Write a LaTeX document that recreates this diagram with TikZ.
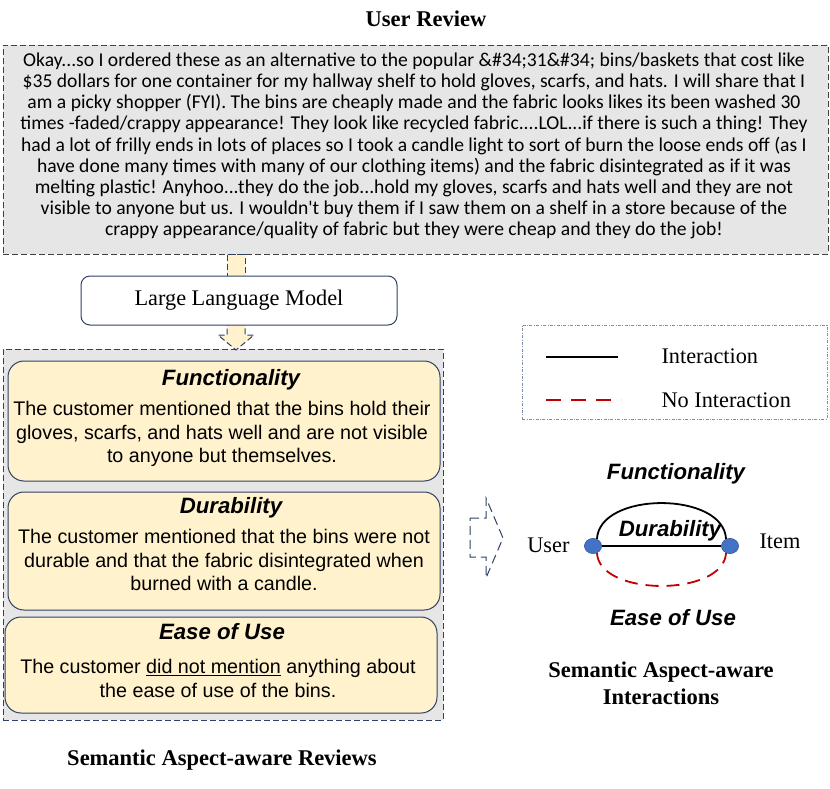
\documentclass[tikz,border=0pt]{standalone}
\usepackage{fontspec}
\setmainfont{Liberation Serif}
\setsansfont{Liberation Sans}
\newfontfamily\calfont{Carlito}
\usetikzlibrary{calc}
\definecolor{navy}{HTML}{2F4066}
\definecolor{boxyel}{HTML}{FFF2CC}
\definecolor{boxgray}{HTML}{E6E6E6}
\definecolor{nodeblue}{HTML}{4472C4}
\definecolor{redd}{HTML}{C00000}
\definecolor{legbd}{HTML}{8090A8}
\tikzset{
  caption/.style={font=\fontsize{22.5}{27}\selectfont\bfseries, align=center},
  aspectbox/.style={draw=navy, line width=1pt, fill=boxyel, rounded corners=16pt, minimum width=432pt, inner sep=0pt},
  aspecttitle/.style={font=\fontsize{22.2}{26}\sffamily\bfseries\itshape\selectfont},
  aspecttext/.style={font=\fontsize{19.7}{23.5}\sffamily\selectfont, align=center},
  blockarrow/.style={draw=navy, dashed, dash pattern=on 6pt off 3pt, line width=1pt, fill=boxyel},
  unode/.style={ellipse, fill=nodeblue, draw=nodeblue!80!black, line width=0.4pt, minimum width=17pt, minimum height=15pt, inner sep=0pt},
  serifl/.style={font=\fontsize{22.3}{26}\selectfont},
}
\usetikzlibrary{shapes.geometric}
\begin{document}
\begin{tikzpicture}[x=1pt,y=-1pt]
\useasboundingbox (0,0) rectangle (830,788);
% title
\node[caption] (t1) at (426,19) {User Review};
% review box
\node[draw=black!75, dashed, dash pattern=on 6pt off 3pt, line width=1pt, fill=boxgray, minimum width=825pt, minimum height=209pt, inner sep=0pt] (rev) at (415.5,149.5) {};
\node[font=\calfont\fontsize{19.6}{21.15}\selectfont, align=center] (revtxt) at (414,146) {Okay...so I ordered these as an alternative to the popular \&\#34;31\&\#34; bins/baskets that cost like\\
\$35 dollars for one container for my hallway shelf to hold gloves, scarfs, and hats. I will share that I\\
am a picky shopper (FYI). The bins are cheaply made and the fabric looks likes its been washed 30\\
times -faded/crappy appearance! They look like recycled fabric....LOL...if there is such a thing! They\\
had a lot of frilly ends in lots of places so I took a candle light to sort of burn the loose ends off (as I\\
have done many times with many of our clothing items) and the fabric disintegrated as if it was\\
melting plastic! Anyhoo...they do the job...hold my gloves, scarfs and hats well and they are not\\
visible to anyone but us. I wouldn't buy them if I saw them on a shelf in a store because of the\\
crappy appearance/quality of fabric but they were cheap and they do the job!};
% LLM box position
\coordinate (llmc) at (239,300.5);
% arrow review -> LLM (shaft)
\draw[blockarrow] ($(rev.south)+(-188.5,0)$) rectangle ($(llmc)+(6,-10)$);
% left container
\node[draw=navy, dashed, dash pattern=on 6pt off 3pt, line width=1pt, fill=boxgray, minimum width=440pt, minimum height=371pt, inner sep=0pt] (cont) at (223,534.5) {};
% arrow LLM -> container
\draw[blockarrow] ($(llmc)+(-12,10)$) -- ($(llmc)+(-12,34.5)$) -- ($(llmc)+(-21,34.5)$) -- ($(llmc)+(-3,49.5)$) -- ($(llmc)+(15,34.5)$) -- ($(llmc)+(6,34.5)$) -- ($(llmc)+(6,10)$);
\node[draw=navy, line width=1pt, fill=white, rounded corners=9pt, minimum width=316pt, minimum height=49pt, inner sep=0pt, serifl] (llm) at (llmc) {Large Language Model};
% aspect boxes
\node[aspectbox, minimum height=120pt] (b1) at (224,421) {};
\node[aspecttitle] (b1t) at (231,380) {Functionality};
\node[aspecttext] (b1x) at (222,434) {The customer mentioned that the bins hold their\\gloves, scarfs, and hats well and are not visible\\to anyone but themselves.};
\node[aspectbox, minimum height=118pt] (b2) at (224,551) {};
\node[aspecttitle] (b2t) at (231,508) {Durability};
\node[aspecttext] (b2x) at (224,560) {The customer mentioned that the bins were not\\durable and that the fabric disintegrated when\\burned with a candle.};
\node[aspectbox, minimum height=96pt] (b3) at (221,665) {};
\node[aspecttitle] (b3t) at (222,632) {Ease of Use};
\node[aspecttext] (b3x) at (218,678.5) {The customer \underline{did not mention} anything about\\the ease of use of the bins.};
\node[caption] (c1) at (222,760) {Semantic Aspect-aware Reviews};
% legend
\node[draw=legbd, line width=0.6pt, dash pattern=on 3pt off 1.5pt on 0.8pt off 1.5pt, minimum width=305pt, minimum height=94pt, inner sep=0pt] (leg) at (674.5,372) {};
\coordinate (l1a) at (546,357); \coordinate (l1b) at (618,357);
\coordinate (l2a) at (546,400); \coordinate (l2b) at (621,400);
\draw[line width=2.4pt] (l1a) -- (l1b);
\draw[redd, line width=2.4pt, dash pattern=on 15pt off 10pt] (l2a) -- (l2b);
\node[serifl, anchor=west] (li1) at (658,356) {Interaction};
\node[serifl, anchor=west] (li2) at (658,400) {No Interaction};
% right block arrow
\coordinate (ra) at (470,538);
\draw[draw=navy, dashed, dash pattern=on 9pt off 5pt, line width=1pt, fill=white] ($(ra)+(0,-20)$) -- ($(ra)+(16,-20)$) -- ($(ra)+(16,-40)$) -- ($(ra)+(33,0)$) -- ($(ra)+(16,40)$) -- ($(ra)+(16,19)$) -- ($(ra)+(0,19)$) -- cycle;
% graph
\node[unode] (user) at (593,546) {};
\node[unode] (item) at (730,546) {};
\draw[line width=1.8pt] (user.60) .. controls (599,491) and (724,491) .. (item.120);
\draw[redd, line width=1.8pt, dash pattern=on 13pt off 8pt] (user.-60) .. controls (599,597) and (724,597) .. (item.-120);
\draw[line width=1.8pt] (user) -- (item);
\node[unode] at (user) {};
\node[unode] at (item) {};
\node[aspecttitle] (gd) at (670,531) {Durability};
\node[aspecttitle] (gf) at (676,474) {Functionality};
\node[aspecttitle] (ge) at (673,618) {Ease of Use};
\node[serifl, anchor=east] (ul) at (573,545) {User};
\node[serifl, anchor=west] (il) at (756,541) {Item};
\node[caption] (c2) at (661,683.5) {Semantic Aspect-aware\\Interactions};
\end{tikzpicture}
\end{document}
